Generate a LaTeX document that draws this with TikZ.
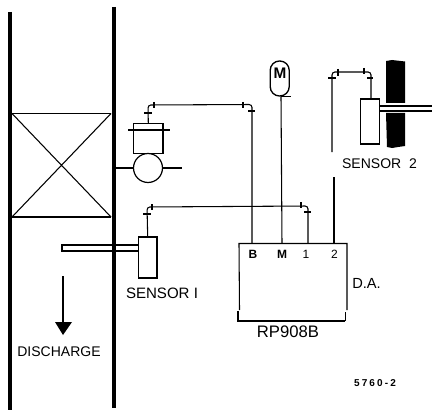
\documentclass[tikz,border=0pt]{standalone}
\usepackage{fontspec}
\setmainfont{Liberation Sans}
\tikzset{
  wall/.style={line width=3pt},
  wire/.style={line width=0.8pt,rounded corners=2.2pt},
  thin line/.style={line width=0.8pt},
  tick/.style={line width=0.9pt},
  lbl/.style={inner sep=0pt,font=\fontsize{10.5}{12}\selectfont},
  pin/.style={inner sep=0pt,font=\fontsize{9}{10}\selectfont\bfseries},
}
\begin{document}
\begin{tikzpicture}[x=0.75pt,y=-0.75pt]
\useasboundingbox (0,0) rectangle (432,410);
% walls
\draw[wall] (10,12) -- (10,410);
\draw[wall] (113.5,7) -- (113.5,408);
% damper box
\coordinate (dTL) at (12,113.5);
\coordinate (dTR) at (111,113.5);
\coordinate (dBL) at (12,217);
\coordinate (dBR) at (111,217);
\draw[line width=1.1pt] (dTL) -- (dTR) (dBL) -- (dBR);
\draw[thin line] (dTL) -- (dBR) (dTR) -- (dBL);
% actuator
\node[draw,line width=0.9pt,inner sep=0pt,minimum width=29.5*0.75pt,minimum height=29.5*0.75pt] (act) at (148.3,138.5) {};
\draw[thin line] (128,130) -- (170,130);
\node[draw,circle,line width=0.9pt,inner sep=0pt,minimum size=29*0.75pt] (pump) at (148,168) {};
\coordinate (pL) at (116,168);
\coordinate (pR) at (182,168);
\draw[thin line] (pL) -- (pump) (pump) -- (pR);
% motor
\node[draw,rounded corners=7pt,line width=1pt,inner sep=0pt,minimum width=19*0.75pt,minimum height=35*0.75pt] (mot) at (279.7,78.5) {};
\node[inner sep=0pt,font=\fontsize{11.5}{12}\selectfont\bfseries] (motl) at (280,73.5) {M};
\draw[thin line] (281,96.7) -- (291,96.7);
% controller
\coordinate (cTL) at (239,243.5);
\coordinate (cTR) at (347,243.5);
\coordinate (cR) at (347,310);
\coordinate (cR2) at (345,312);
\coordinate (cBR) at (345,321);
\coordinate (cBL) at (238,321);
\coordinate (cL2) at (238,311);
\coordinate (cL) at (239.5,310);
\draw[line width=0.8pt] (cL) -- (cTL) -- (cTR) -- (cR);
\draw[line width=0.4pt] (cR2) -- (cBR);
\draw[line width=1.1pt] (cBR) -- (cBL) -- (cL2);
\node[pin] (pB) at (253,254.5) {B};
\node[pin] (pM) at (282,254.5) {M};
\node[pin,font=\fontsize{9}{10}\selectfont] (p1) at (306,254.5) {1};
\node[pin,font=\fontsize{9}{10}\selectfont] (p2) at (334.5,254.5) {2};
\node[lbl,font=\fontsize{11}{12}\selectfont] (da) at (352,283) [anchor=west] {D.A.};
\node[lbl,font=\fontsize{12.5}{13}\selectfont] (rp) at (288,332) {RP908B};
\node[inner sep=0pt,font=\fontsize{7.5}{8}\selectfont\bfseries] (num) at (375,383) {5\kern1.6pt7\kern1.6pt6\kern1.6pt0\kern1.6pt-\kern1.6pt2};
% sensor 1
\node[draw,line width=0.9pt,inner sep=0pt,minimum width=18.5*0.75pt,minimum height=41*0.75pt] (s1) at (147.7,257.5) {};
\coordinate (r1T) at (138.5,245);
\coordinate (r1B) at (138.5,251);
\draw[line width=0.8pt] (r1T) -- (62,245) -- (62,251) -- (r1B);
\node[lbl,font=\fontsize{11.3}{12}\selectfont] (s1l) at (162,293) {SENSOR I};
% sensor 2
\node[draw,line width=0.9pt,inner sep=0pt,minimum width=18.5*0.75pt,minimum height=45*0.75pt] (s2) at (370,121.5) {};
\coordinate (r2T) at (379,106);
\coordinate (r2B) at (379,111);
\draw[line width=0.9pt] (r2T) -- (432,106) (r2B) -- (432,111);
\fill (386,61) -- (392,60) -- (405,61.5) -- (405,103) -- (386,103) -- cycle;
\fill (386,113) -- (405,113) -- (405,146) -- (398,147) -- (392,148) -- (387,147) -- cycle;
\node[lbl] (s2l) at (379.5,164) {SENSOR\ \ 2};
% discharge
\coordinate (aT) at (63,276);
\coordinate (aB) at (63,322);
\draw[thin line] (aT) -- (aB);
\fill (55,322) -- (72,322) -- (63,335) -- cycle;
\node[lbl] (dis) at (59,352) {DISCHARGE};
% wires
\coordinate (j1) at (252,243.5);
\coordinate (j2) at (282,243.5);
\coordinate (j3) at (308,243.5);
\coordinate (j4) at (334,243.5);
\coordinate (j4t) at (334,177);
\coordinate (j5) at (332,152);
\draw[wire] (act.north) -- (148,105) -- (252,104.5) -- (j1);
\draw[thin line] (281,96.7) -- (j2);
\draw[wire] (s1.north) -- (147,207) -- (308,206) -- (j3);
\draw[thin line] (j4t) -- (j4);
\draw[wire] (j5) -- (332,72) -- (371,72) -- (s2.north -| 371,99);
% ticks
\draw[tick] (144,113) -- (152,113) (154,102) -- (154,108);
\draw[tick] (243,102) -- (243,108) (248,111) -- (255,111);
\draw[tick] (143,214) -- (151,214) (152,204) -- (152,210);
\draw[tick] (301,202) -- (301,208) (304,212) -- (311,212);
\draw[tick] (328,78) -- (336,78) (338,69) -- (338,76);
\draw[tick] (364,68) -- (364,74) (367,78) -- (373,78);
\end{tikzpicture}
\end{document}
